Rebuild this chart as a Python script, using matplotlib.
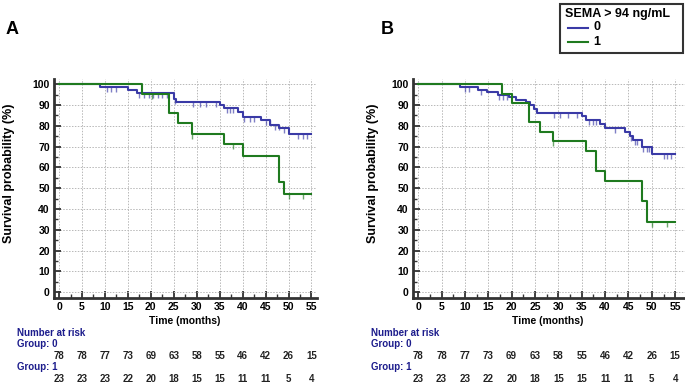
import matplotlib
matplotlib.use("Agg")
import matplotlib.pyplot as plt
from matplotlib.lines import Line2D
from matplotlib.patches import Rectangle
from matplotlib.ticker import MultipleLocator
from matplotlib.transforms import blended_transform_factory

plt.rcParams['font.family'] = ['Liberation Sans', 'DejaVu Sans']
plt.rcParams['font.weight'] = 'bold'

# ---------------- data ----------------
risk_times = [0, 5, 10, 15, 20, 25, 30, 35, 40, 45, 50, 55]
risk_g0 = [78, 78, 77, 73, 69, 63, 58, 55, 46, 42, 26, 15]
risk_g1 = [23, 23, 23, 22, 20, 18, 15, 15, 11, 11, 5, 4]

# Panel A
a_blue_t = [0, 9, 15, 17, 25, 25.5, 35, 36, 39, 40, 44, 46, 48, 50, 55]
a_blue_s = [100, 98.7, 97.3, 96.0, 92.8, 91.6, 90.0, 88.4, 86.5, 84.4, 82.8, 80.5, 78.8, 75.9, 75.9]
a_blue_cens = [10.5, 11.3, 12.3, 17.5, 18.5, 19.5, 20.5, 21.5, 22.5, 23.5, 25.3,
               29.2, 30.7, 32.1, 34.1, 36.5, 37.2, 38.0, 40.2, 41.5, 42.5, 45.0, 45.9,
               47.0, 47.9, 49.0, 52.0, 53.1, 54.1]
a_green_t = [0, 18, 24, 26, 29, 36, 40, 48, 49, 55]
a_green_s = [100, 95.5, 86.0, 81.2, 76.1, 71.3, 65.3, 53.2, 47.2, 47.2]
a_green_cens = [20.2, 29.0, 37.9, 50.0, 53.2]

# Panel B
b_blue_t = [0, 9, 12.9, 14.8, 17, 19.5, 21, 23, 24, 24.7, 25.5, 35, 36, 39, 40, 44.2, 45.3, 46, 48, 50, 55]
b_blue_s = [100, 98.7, 97.4, 96.1, 94.8, 93.7, 92.6, 91.5, 90.2, 88.3, 86.3, 84.8, 83.0, 80.7, 78.8,
            77.0, 75.0, 73.2, 69.6, 66.6, 66.6]
b_blue_cens = [10.1, 10.9, 13.5, 17.4, 18.2, 19.0, 29.1, 30.4, 32.1, 34.0, 36.6, 37.4, 38.1,
               42.1, 45.6, 46.3, 46.9, 48.2, 48.9, 49.5, 52.6, 53.3, 54.0]
b_green_t = [0, 18, 20, 23.8, 26, 28.8, 36, 38, 40, 48, 49, 55]
b_green_s = [100, 95.1, 90.8, 81.7, 77.2, 72.9, 68.1, 58.3, 53.3, 43.7, 33.9, 33.9]
b_green_cens = [28.8, 50.0, 53.2]

group_labels = ['0', '1']
legend_title = 'SEMA > 94 ng/mL'

BLUE = '#3a3aa6'
GREEN = '#1f7a1f'
HEAD = '#1c1c8c'

W, H = 685, 384
fig = plt.figure(figsize=(W / 100, H / 100), dpi=100)


def fx(px):
    return px / W


def fy(py):
    return 1 - py / H


def surv_at(t_list, s_list, t):
    val = s_list[0]
    for tt, ss in zip(t_list, s_list):
        if tt <= t:
            val = ss
    return val


def panel(left_px, right_px, xlim, bt, bs, bc, gt, gs, gc):
    top_px, bot_px = 79, 298
    ax = fig.add_axes([fx(left_px), fy(bot_px), (right_px - left_px) / W, (bot_px - top_px) / H])
    ax.step(bt, bs, where='post', color=BLUE, lw=1.5, zorder=3)
    ax.step(gt, gs, where='post', color=GREEN, lw=1.5, zorder=4)
    for c in bc:
        y = surv_at(bt, bs, c)
        ax.vlines(c, y - 2.4, y, color=BLUE, lw=1.0, alpha=0.65, zorder=3)
    for c in gc:
        y = surv_at(gt, gs, c)
        ax.vlines(c, y - 2.4, y, color=GREEN, lw=1.0, alpha=0.65, zorder=4)
    ax.set_xlim(*xlim)
    ax.set_ylim(-2.8, 102.5)
    ax.xaxis.set_minor_locator(MultipleLocator(2.5))
    ax.yaxis.set_minor_locator(MultipleLocator(5))
    ax.set_xticks(risk_times)
    ax.set_yticks(range(0, 101, 10))
    ax.grid(True, which='major', color='#b8b8b8', ls=(0, (1.5, 1.5)), lw=0.7)
    ax.set_axisbelow(True)
    for s in ['top', 'right']:
        ax.spines[s].set_visible(False)
    for s in ['left', 'bottom']:
        ax.spines[s].set_linewidth(2)
        ax.spines[s].set_color('#333333')
    ax.tick_params(which='major', direction='in', length=5, width=1.3, color='#333333',
                   labelsize=7.5, pad=3)
    ax.tick_params(which='minor', direction='in', length=3, width=1, color='#333333')
    for lab in ax.get_xticklabels() + ax.get_yticklabels():
        lab.set_fontweight('bold')
    ax.patch.set_alpha(0)
    return ax


axA = panel(54, 317, (-1.1, 56.2), a_blue_t, a_blue_s, a_blue_cens,
            a_green_t, a_green_s, a_green_cens)
axB = panel(413, 685, (-1.1, 57.1), b_blue_t, b_blue_s, b_blue_cens,
            b_green_t, b_green_s, b_green_cens)

for ax, lx, ylab_x, xlab_x, letter, letter_x in [(axA, 17, 9, 185, 'A', 12), (axB, 371, 373, 548, 'B', 387)]:
    fig.text(fx(ylab_x), fy(173), 'Survival probability (%)', rotation=90,
             ha='center', va='center', fontsize=9, fontweight='bold')
    fig.text(fx(xlab_x), fy(321), 'Time (months)', ha='center', va='center',
             fontsize=7.5, fontweight='bold')
    fig.text(fx(letter_x), fy(30), letter, ha='center', va='center',
             fontsize=13, fontweight='bold')
    fig.text(fx(lx), fy(333), 'Number at risk', ha='left', va='center',
             fontsize=7, fontweight='bold', color=HEAD)
    fig.text(fx(lx), fy(344), 'Group: 0', ha='left', va='center',
             fontsize=7, fontweight='bold', color=HEAD)
    fig.text(fx(lx), fy(367), 'Group: 1', ha='left', va='center',
             fontsize=7, fontweight='bold', color=HEAD)
    tr = blended_transform_factory(ax.transData, fig.transFigure)
    for t, n0, n1 in zip(risk_times, risk_g0, risk_g1):
        ax.text(t, fy(356), str(n0), transform=tr, ha='center', va='center',
                fontsize=7, fontweight='bold', color='#222222', clip_on=False)
        ax.text(t, fy(379), str(n1), transform=tr, ha='center', va='center',
                fontsize=7, fontweight='bold', color='#222222', clip_on=False)

# legend box (drawn manually to match the reference geometry)
fig.patches.append(Rectangle((fx(560), fy(53)), (683 - 560) / W, (53 - 4) / H,
                             transform=fig.transFigure, fill=True, facecolor='white',
                             edgecolor='#333333', lw=1.5, zorder=5))
fig.text(fx(565), fy(13.5), legend_title, ha='left', va='center', fontsize=9,
         fontweight='bold', zorder=6)
for py, col, lab in [(27.5, BLUE, group_labels[0]), (42, GREEN, group_labels[1])]:
    fig.lines.append(Line2D([fx(568), fx(588)], [fy(py), fy(py)], transform=fig.transFigure,
                            color=col, lw=1.5, zorder=6))
    fig.text(fx(593), fy(py), lab, ha='left', va='center', fontsize=9,
             fontweight='bold', zorder=6)

fig.savefig('out.png', dpi=100)
